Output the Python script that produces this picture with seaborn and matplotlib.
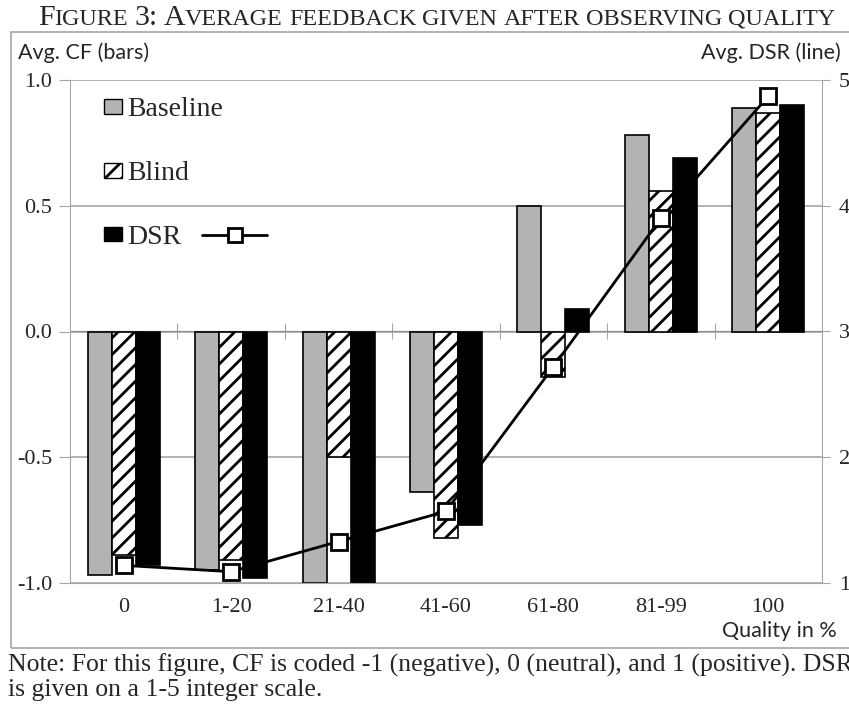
import numpy as np
import pandas as pd
import matplotlib
matplotlib.use("Agg")
import matplotlib.pyplot as plt
import seaborn as sns
from matplotlib.patches import Patch, Rectangle
from matplotlib.lines import Line2D

# Data
categories = ['0', '1-20', '21-40', '41-60', '61-80', '81-99', '100']
groups = ['Baseline', 'Blind', 'DSR']
baseline_cf = [-0.97, -0.95, -1.00, -0.64, 0.50, 0.78, 0.89]
blind_cf = [-0.89, -0.91, -0.50, -0.82, -0.18, 0.56, 0.87]
dsr_cf = [-0.93, -0.98, -1.00, -0.77, 0.09, 0.69, 0.90]
dsr_rating = [1.14, 1.09, 1.33, 1.57, 2.72, 3.90, 4.87]

df = pd.DataFrame({
    'quality': categories * 3,
    'group': np.repeat(groups, len(categories)),
    'cf': baseline_cf + blind_cf + dsr_cf,
})

sns.set_style("white")
plt.rcParams['hatch.linewidth'] = 2.0
serif = 'Liberation Serif'
sans = 'Lato'
grid_col = '#a6a6a6'
colors = ['#b3b3b3', 'white', 'black']
W, H = 849, 709

fig = plt.figure(figsize=(8.49, 7.09), dpi=100)
ax = fig.add_axes([70 / W, 1 - 583 / H, 752 / W, 503 / H])

sns.barplot(data=df, x='quality', y='cf', hue='group', hue_order=groups,
            palette=colors, saturation=1, width=0.67, edgecolor='black',
            linewidth=1.2, legend=False, ax=ax)
for bar in ax.containers[1]:
    bar.set_hatch('//')

ax.set_ylim(-1, 1)
ax.set_yticks([-1, -0.5, 0, 0.5, 1])
ax.set_yticklabels([f"{v:.1f}" for v in [-1, -0.5, 0, 0.5, 1]])
ax.yaxis.grid(True, color=grid_col, linewidth=1.2)
ax.set_axisbelow(True)
ax.set_xlabel('')
ax.set_ylabel('')
for s in ['top', 'right']:
    ax.spines[s].set_visible(False)
ax.spines['left'].set_color(grid_col)
ax.spines['bottom'].set_color(grid_col)
ax.tick_params(axis='y', length=8, color=grid_col, direction='out', pad=5,
               labelsize=16, left=True)
ax.tick_params(axis='x', length=0, pad=11, labelsize=16)
for lab in ax.get_xticklabels() + ax.get_yticklabels():
    lab.set_family(serif)

# category axis crossing at zero, tick marks between groups
zero_axis = ax.secondary_xaxis(0.5)
zero_axis.set_xticks(np.arange(len(categories) - 1) + 0.5)
zero_axis.tick_params(length=12, direction='inout', color=grid_col, labelbottom=False)
zero_axis.spines['bottom'].set_color(grid_col)
zero_axis.set_xticklabels([])

# DSR rating line on the right axis
ax2 = ax.twinx()
sns.lineplot(x=np.arange(len(categories)), y=dsr_rating, ax=ax2, color='black',
             linewidth=2, marker='s', markersize=11, markerfacecolor='white',
             markeredgecolor='black', markeredgewidth=2)
ax2.set_ylim(1, 5)
ax2.set_yticks([1, 2, 3, 4, 5])
for s in ['top', 'left', 'bottom']:
    ax2.spines[s].set_visible(False)
ax2.spines['right'].set_color(grid_col)
ax2.tick_params(axis='y', length=6, color=grid_col, direction='out', pad=6,
                labelsize=16, right=True)
for lab in ax2.get_yticklabels():
    lab.set_family(serif)
ax.set_xlim(-0.5, len(categories) - 0.5)

# legend
handles = [Patch(facecolor=colors[0], edgecolor='black'),
           Patch(facecolor='white', edgecolor='black', hatch='//'),
           Patch(facecolor='black', edgecolor='black')]
leg = ax.legend(handles, groups, loc='upper left', bbox_to_anchor=(0.045, 0.966),
                frameon=False, prop={'family': serif, 'size': 20},
                handlelength=0.65, handleheight=0.45, handletextpad=0.2,
                labelspacing=1.4, borderaxespad=0, borderpad=0)
ax.add_artist(leg)
ax.legend([Line2D([], [], color='black', linewidth=2, marker='s', markersize=10,
                  markerfacecolor='white', markeredgecolor='black', markeredgewidth=2)],
          [''], loc='center', bbox_to_anchor=(0.219, 0.688), frameon=False,
          handlelength=2.35, handletextpad=0, borderaxespad=0, borderpad=0,
          prop={'size': 20})

# axis titles and frame
fig.text(18 / W, 1 - 53 / H, 'Avg. CF (bars)', family=sans, fontsize=15.5,
         ha='left', va='center')
fig.text(841 / W, 1 - 53 / H, 'Avg. DSR (line)', family=sans, fontsize=15.5,
         ha='right', va='center')
fig.text(837 / W, 1 - 631 / H, 'Quality in %', family=sans, fontsize=15.5,
         ha='right', va='center')
fig.patches.append(Rectangle((11 / W, 1 - 648 / H), 1.0, 616 / H,
                             transform=fig.transFigure, fill=False,
                             edgecolor=grid_col, linewidth=1.2))

# small-caps title built from pieces
big, small = 21.5, 17.4
pieces = [('F', big), ('IGURE', small), (' ', small), ('3:', big), (' ', small),
          ('A', big), ('VERAGE', small)]
for word in ['FEEDBACK', 'GIVEN', 'AFTER', 'OBSERVING', 'QUALITY']:
    pieces += [(' ', small), (word, small)]
renderer = fig.canvas.get_renderer()
x = 38.0
for txt, size in pieces:
    if txt == ' ':
        x += size * 0.25 * 100 / 72
        continue
    t = fig.text(x / W, 1 - 25 / H, txt, family=serif, fontsize=size,
                 ha='left', va='baseline')
    x += t.get_window_extent(renderer).width

fig.text(8 / W, 1 - 665 / H,
         'Note: For this figure, CF is coded -1 (negative), 0 (neutral), and 1 (positive). DSR',
         family=serif, fontsize=18.5, ha='left', va='center')
fig.text(8 / W, 1 - 690 / H, 'is given on a 1-5 integer scale.',
         family=serif, fontsize=18.5, ha='left', va='center')

fig.savefig('out.png', dpi=100)
